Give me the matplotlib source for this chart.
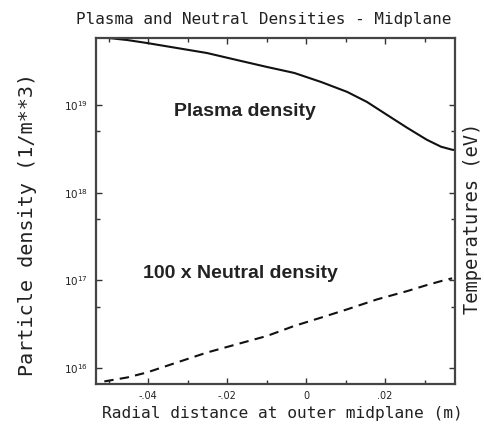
import numpy as np
import matplotlib
matplotlib.use("Agg")
import matplotlib.pyplot as plt
from matplotlib.ticker import FixedLocator, FixedFormatter

# radial position (m) and log10 densities
r_plasma = [-0.0529, -0.0453, -0.0403, -0.0327, -0.0251, -0.0175, -0.0099,
            -0.0030, 0.0038, 0.0104, 0.0154, 0.0205, 0.0256, 0.0306,
            0.0342, 0.0370, 0.0377]
log_plasma = [19.776, 19.739, 19.705, 19.648, 19.591, 19.511, 19.432,
              19.364, 19.261, 19.148, 19.034, 18.886, 18.739, 18.602,
              18.523, 18.489, 18.485]

r_neutral = [-0.0511, -0.0453, -0.0403, -0.0327, -0.0251, -0.0175, -0.0099,
             -0.0030, 0.0038, 0.0104, 0.0180, 0.0256, 0.0306, 0.0357,
             0.0370]
log_neutral = [15.849, 15.894, 15.951, 16.065, 16.178, 16.273, 16.367,
               16.481, 16.576, 16.670, 16.784, 16.878, 16.947, 17.011,
               17.023]

x_ticks = [-0.04, -0.02, 0.0, 0.02]
x_ticklabels = ['-.04', '-.02', '0', '.02']
y_ticks = [1e16, 1e17, 1e18, 1e19]
y_ticklabels = [r'$10^{16}$', r'$10^{17}$', r'$10^{18}$', r'$10^{19}$']

mono = 'DejaVu Sans Mono'
bold = 'Liberation Sans'

fig = plt.figure(figsize=(4.85, 4.29), dpi=100)
ax = fig.add_axes([0.198, 0.105, 0.740, 0.806])

ax.plot(r_plasma, 10 ** np.array(log_plasma), color='#111111', lw=1.5)
ax.plot(r_neutral, 10 ** np.array(log_neutral), color='#111111', lw=1.5,
        dashes=(4.5, 3))

ax.set_yscale('log')
ax.set_xlim(-0.0532, 0.0377)
ax.set_ylim(10 ** 15.82, 10 ** 19.76)

ax.xaxis.set_major_locator(FixedLocator(x_ticks))
ax.xaxis.set_major_formatter(FixedFormatter(x_ticklabels))
ax.xaxis.set_minor_locator(FixedLocator([-0.05, -0.03, -0.01, 0.01, 0.03]))
ax.yaxis.set_major_locator(FixedLocator(y_ticks))
ax.yaxis.set_major_formatter(FixedFormatter(y_ticklabels))
ax.yaxis.set_minor_locator(FixedLocator([5e16, 5e17, 5e18]))
ax.yaxis.set_minor_formatter(FixedFormatter(['', '', '']))

ax.tick_params(which='both', direction='in', top=True, right=True,
               colors='#333333', labelcolor='#222222')
ax.tick_params(axis='x', labelsize=7, pad=5)
ax.tick_params(axis='y', labelsize=7.5, pad=6)
ax.tick_params(which='major', length=4, width=1)
ax.tick_params(which='minor', length=3, width=1)
for s in ax.spines.values():
    s.set_linewidth(1.6)
    s.set_color('#444444')

ax.set_title('Plasma and Neutral Densities - Midplane', family=mono,
             fontsize=11.5, x=0.468, pad=10, color='#222222')
ax.set_xlabel('Radial distance at outer midplane (m)', family=mono,
              fontsize=11.7, color='#222222', labelpad=4, x=0.518)
ax.set_ylabel('Particle density (1/m**3)', family=mono, fontsize=14.5,
              color='#222222')
ax.yaxis.set_label_coords(-0.165, 0.462)

ax.text(-0.0154, 10 ** 18.92, 'Plasma density', family=bold,
        fontweight='bold', fontsize=14, ha='center', va='center',
        color='#222222')
ax.text(-0.0165, 10 ** 17.08, '100 x Neutral density', family=bold,
        fontweight='bold', fontsize=14, ha='center', va='center',
        color='#222222')

fig.text(0.974, 0.49, 'Temperatures (eV)', family=mono, fontsize=13.5,
         rotation=90, ha='center', va='center', color='#222222')

fig.savefig('out.png', dpi=100, facecolor='white')
